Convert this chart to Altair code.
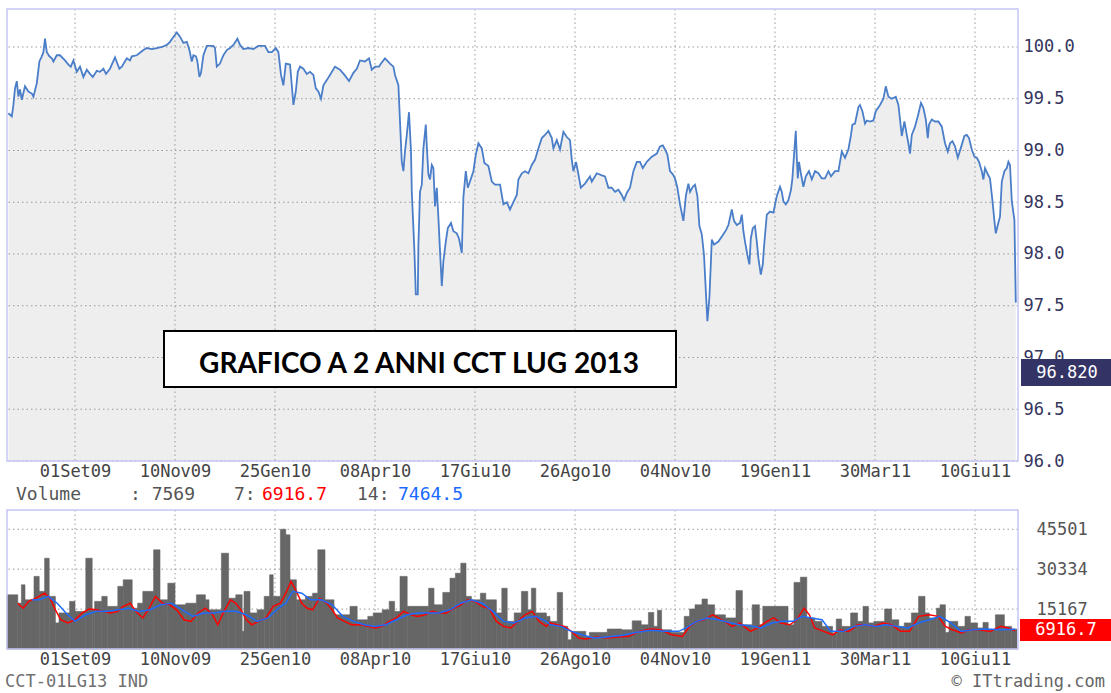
import altair as alt
import pandas as pd

MONO = "DejaVu Sans Mono"

# ---------------- data ----------------
tick_days = [34, 84, 134, 184, 234, 284, 334, 384, 434, 484]
tick_labels = ["01Set09", "10Nov09", "25Gen10", "08Apr10", "17Giu10",
               "26Ago10", "04Nov10", "19Gen11", "30Mar11", "10Giu11"]
price_ticks = [96.0, 96.5, 97.0, 97.5, 98.0, 98.5, 99.0, 99.5, 100.0]
volume_ticks = [15167, 30334, 45501]
last_price = "96.820"
last_volume = 7569
ma7_last = "6916.7"
ma14_last = "7464.5"
title_text = "GRAFICO A 2 ANNI CCT LUG 2013"
instrument = "CCT-01LG13 IND"
credit = "\u00a9 ITtrading.com"

# (trading-day index, price)
price_points = [
    (0.7, 99.36), (2.4, 99.33), (3.2, 99.44), (4.0, 99.60), (4.9, 99.67), (5.7, 99.52), (6.5, 99.59),
    (7.4, 99.49), (9.0, 99.62), (10.7, 99.57), (12.4, 99.55), (13.2, 99.52), (14.9, 99.65), (16.2, 99.86),
    (17.4, 99.91), (18.2, 99.95), (19.0, 100.08), (19.9, 99.95), (21.2, 99.91), (22.4, 99.89), (23.2, 99.86),
    (24.9, 99.92), (26.5, 99.92), (29.0, 99.87), (30.7, 99.83), (31.9, 99.81), (33.2, 99.87), (34.9, 99.76),
    (36.5, 99.81), (38.2, 99.71), (39.9, 99.78), (41.5, 99.74), (42.9, 99.71), (44.9, 99.77), (46.5, 99.76),
    (48.2, 99.79), (49.5, 99.74), (51.5, 99.79), (54.0, 99.90), (56.2, 99.79), (57.4, 99.81), (59.9, 99.89),
    (61.5, 99.87), (62.4, 99.91), (64.9, 99.92), (68.2, 99.97), (69.9, 99.99), (72.4, 99.98), (74.9, 99.99),
    (77.4, 100.00), (79.9, 100.02), (81.5, 100.05), (82.9, 100.09), (84.9, 100.14), (86.5, 100.10),
    (88.2, 100.04), (89.9, 100.05), (91.2, 99.97), (92.4, 99.86), (93.2, 99.92), (94.5, 99.91), (95.2, 99.86),
    (96.2, 99.71), (97.0, 99.75), (98.2, 99.92), (99.9, 100.01), (103.2, 100.01), (104.0, 99.99),
    (104.9, 99.81), (106.5, 99.84), (108.2, 99.92), (109.9, 99.97), (111.5, 99.99), (113.2, 100.02),
    (115.2, 100.08), (116.5, 100.02), (118.2, 99.98), (120.7, 99.99), (123.2, 99.98), (125.7, 100.01),
    (129.0, 100.01), (130.7, 99.95), (132.4, 99.95), (134.4, 99.99), (135.7, 99.95), (137.0, 99.73),
    (138.2, 99.63), (139.4, 99.84), (141.5, 99.83), (142.4, 99.63), (143.2, 99.44), (144.4, 99.57),
    (145.4, 99.76), (146.5, 99.81), (148.2, 99.79), (149.9, 99.74), (151.5, 99.76), (153.2, 99.73),
    (154.4, 99.60), (155.7, 99.57), (157.0, 99.50), (158.2, 99.63), (159.9, 99.68), (161.5, 99.73),
    (164.0, 99.81), (166.5, 99.78), (168.7, 99.73), (169.9, 99.70), (171.0, 99.67), (173.2, 99.75),
    (174.9, 99.79), (176.5, 99.87), (179.0, 99.86), (181.0, 99.89), (182.4, 99.78), (184.0, 99.81),
    (186.0, 99.81), (187.0, 99.84), (189.0, 99.89), (191.5, 99.84), (193.2, 99.81), (194.0, 99.73),
    (195.7, 99.63), (196.5, 99.28), (197.4, 98.89), (198.2, 98.80), (199.0, 98.99), (199.9, 99.15),
    (201.0, 99.37), (202.0, 98.99), (202.4, 98.60), (203.7, 98.03), (204.4, 97.61), (205.4, 97.61),
    (205.7, 98.08), (206.5, 98.60), (207.4, 98.67), (208.2, 99.02), (209.4, 99.25), (209.9, 99.04),
    (210.7, 98.77), (211.5, 98.72), (212.4, 98.86), (213.2, 98.83), (214.0, 98.46), (214.9, 98.64),
    (215.7, 98.35), (216.5, 98.03), (217.4, 97.69), (218.2, 97.93), (219.4, 98.12), (220.4, 98.25),
    (222.0, 98.30), (223.2, 98.22), (224.9, 98.20), (226.0, 98.15), (227.4, 98.01), (228.2, 98.55),
    (229.4, 98.80), (230.4, 98.64), (231.5, 98.70), (233.2, 98.80), (234.4, 98.96), (235.7, 99.07),
    (237.4, 99.02), (238.7, 98.88), (240.7, 98.85), (242.4, 98.70), (244.0, 98.67), (246.5, 98.67),
    (248.2, 98.48), (249.9, 98.50), (251.5, 98.43), (253.2, 98.50), (254.9, 98.57), (255.7, 98.72),
    (257.4, 98.78), (259.0, 98.80), (260.7, 98.78), (262.4, 98.86), (264.0, 98.91), (265.7, 99.02),
    (267.4, 99.12), (269.0, 99.15), (270.7, 99.19), (272.4, 99.12), (273.2, 99.02), (274.9, 99.10),
    (276.5, 99.01), (278.2, 99.18), (279.9, 99.13), (281.5, 99.10), (282.4, 98.91), (283.2, 98.80),
    (284.5, 98.89), (285.7, 98.77), (286.9, 98.64), (289.0, 98.68), (291.5, 98.75), (292.4, 98.70),
    (294.9, 98.78), (297.4, 98.76), (299.0, 98.75), (300.7, 98.64), (302.4, 98.64), (304.0, 98.60),
    (305.7, 98.62), (307.4, 98.57), (308.5, 98.52), (309.9, 98.59), (311.5, 98.64), (313.2, 98.80),
    (314.9, 98.89), (316.5, 98.89), (317.9, 98.83), (319.9, 98.89), (322.4, 98.94), (324.9, 98.97),
    (326.5, 99.04), (327.9, 99.05), (329.0, 99.01), (330.2, 98.96), (331.5, 98.80), (332.9, 98.77),
    (334.0, 98.73), (335.2, 98.64), (336.5, 98.48), (338.2, 98.32), (339.5, 98.57), (340.7, 98.68),
    (341.5, 98.60), (342.9, 98.65), (344.0, 98.67), (345.2, 98.56), (346.2, 98.27), (347.4, 98.19),
    (348.5, 97.99), (349.5, 97.61), (350.2, 97.35), (351.2, 97.58), (351.9, 97.90), (352.4, 98.14),
    (353.5, 98.09), (355.7, 98.12), (358.2, 98.19), (359.5, 98.23), (360.7, 98.28), (362.4, 98.43),
    (363.5, 98.32), (364.9, 98.28), (366.5, 98.30), (367.4, 98.38), (368.2, 98.22), (369.0, 98.12),
    (370.2, 97.99), (371.2, 97.90), (371.9, 98.15), (372.9, 98.25), (374.0, 98.27), (374.9, 98.12),
    (375.7, 97.96), (376.9, 97.80), (377.9, 97.90), (378.5, 98.07), (379.9, 98.38), (381.5, 98.41),
    (383.2, 98.40), (384.9, 98.56), (386.5, 98.65), (387.4, 98.60), (388.2, 98.51), (389.4, 98.48),
    (390.7, 98.52), (392.0, 98.62), (392.7, 98.73), (393.7, 99.01), (394.4, 99.19), (394.9, 98.93),
    (395.4, 98.73), (396.0, 98.89), (397.0, 98.77), (398.2, 98.65), (399.4, 98.75), (401.0, 98.80),
    (402.4, 98.72), (404.0, 98.80), (405.7, 98.78), (407.4, 98.73), (409.0, 98.73), (410.7, 98.80),
    (412.0, 98.75), (414.0, 98.80), (415.7, 98.80), (417.4, 98.99), (419.0, 98.93), (420.7, 99.01),
    (422.0, 99.15), (422.7, 99.25), (424.0, 99.26), (425.7, 99.42), (426.5, 99.44), (427.7, 99.38),
    (429.0, 99.26), (429.9, 99.29), (431.5, 99.28), (433.2, 99.29), (434.4, 99.38), (436.5, 99.44),
    (438.2, 99.50), (439.4, 99.62), (440.7, 99.52), (442.4, 99.50), (444.4, 99.52), (445.7, 99.44),
    (446.5, 99.30), (447.4, 99.14), (448.7, 99.28), (449.9, 99.15), (450.7, 99.07), (451.5, 98.97),
    (452.4, 99.15), (454.0, 99.23), (455.4, 99.33), (457.0, 99.46), (458.2, 99.41), (459.4, 99.30),
    (460.4, 99.12), (461.0, 99.25), (462.4, 99.30), (464.0, 99.28), (465.7, 99.28), (467.4, 99.23),
    (469.0, 99.07), (470.4, 98.99), (471.5, 99.07), (472.7, 99.09), (474.0, 99.04), (475.4, 98.93),
    (477.0, 99.03), (478.7, 99.14), (479.9, 99.15), (481.0, 99.12), (482.4, 99.01), (483.7, 98.94),
    (484.9, 98.93), (486.0, 98.89), (487.4, 98.80), (488.2, 98.72), (489.0, 98.83), (490.4, 98.77),
    (491.5, 98.73), (492.7, 98.52), (493.7, 98.32), (494.4, 98.20), (495.4, 98.28), (496.5, 98.36),
    (497.4, 98.70), (498.7, 98.80), (499.9, 98.83), (500.7, 98.89), (501.5, 98.86), (502.4, 98.51),
    (503.7, 98.33), (504.4, 97.53),
]

# (first day, last day, volume) of each run of bars
volume_bars = [
    (0, 5.4, 20600), (5.4, 7.2, 17400), (7.2, 9.0, 24400), (9.0, 13.5, 18700), (13.5, 16.1, 27600),
    (16.1, 18.8, 21900), (18.8, 21.1, 34500), (21.1, 24.2, 20000), (24.2, 26.0, 9900), (26.0, 31.3, 13700),
    (31.3, 34.0, 18100), (34.0, 39.4, 14300), (39.4, 42.6, 34500), (42.6, 43.8, 14900), (43.8, 47.4, 18100),
    (47.4, 50.1, 20000), (50.1, 55.4, 16200), (55.4, 58.1, 23800), (58.1, 62.6, 26300), (62.6, 65.3, 15500),
    (65.3, 67.9, 17400), (67.9, 73.3, 21900), (73.3, 76.5, 37700), (76.5, 80.4, 18700), (80.4, 84.0, 25000),
    (84.0, 89.4, 16800), (89.4, 94.7, 17400), (94.7, 99.2, 20600), (99.2, 101.0, 18700), (101.0, 107.2, 14900),
    (107.2, 110.8, 36400), (110.8, 114.4, 19300), (114.4, 117.6, 20600), (117.6, 118.5, 6700),
    (118.5, 121.5, 21900), (121.5, 125.1, 13700), (125.1, 128.6, 14900), (128.6, 131.3, 20000),
    (131.3, 133.1, 28200), (133.1, 136.7, 20000), (136.7, 139.4, 45500), (139.4, 141.5, 43400),
    (141.5, 144.7, 26300), (144.7, 149.2, 18700), (149.2, 152.8, 20000), (152.8, 155.4, 21200),
    (155.4, 159.0, 37700), (159.0, 163.5, 18700), (163.5, 171.5, 13000), (171.5, 175.1, 16200),
    (175.1, 180.4, 11100), (180.4, 183.1, 12400), (183.1, 187.6, 13700), (187.6, 191.1, 14900),
    (191.1, 193.8, 18100), (193.8, 196.5, 14300), (196.5, 200.1, 27600), (200.1, 210.8, 16200),
    (210.8, 213.5, 23100), (213.5, 217.9, 16800), (217.9, 221.5, 21500), (221.5, 224.2, 26900),
    (224.2, 226.9, 28800), (226.9, 229.5, 32600), (229.5, 232.2, 20000), (232.2, 236.7, 18700),
    (236.7, 239.4, 21200), (239.4, 244.7, 18700), (244.7, 247.4, 13700), (247.4, 250.1, 23100),
    (250.1, 253.6, 10500), (253.6, 257.2, 13700), (257.2, 260.4, 21900), (260.4, 262.2, 14900),
    (262.2, 264.4, 23100), (264.4, 269.7, 13700), (269.7, 271.5, 12400), (271.5, 275.1, 10500),
    (275.1, 277.8, 21500), (277.8, 280.4, 8600), (280.4, 282.2, 3500), (282.2, 289.4, 6700),
    (289.4, 291.2, 4800), (291.2, 300.1, 6300), (300.1, 307.3, 7600), (307.3, 312.6, 7300),
    (312.6, 317.1, 10700), (317.1, 320.7, 9200), (320.7, 323.4, 13900), (323.4, 325.2, 8600),
    (325.2, 327.3, 14700), (327.3, 332.3, 7300), (332.3, 338.6, 6300), (338.6, 341.3, 12400),
    (341.3, 344.0, 15200), (344.0, 347.5, 16800), (347.5, 350.2, 19000), (350.2, 353.8, 16800),
    (353.8, 359.2, 13000), (359.2, 364.5, 11800), (364.5, 367.7, 22200), (367.7, 372.6, 9200),
    (372.6, 376.2, 16800), (376.2, 377.9, 9200), (377.9, 390.5, 16200), (390.5, 393.5, 9200),
    (393.5, 396.7, 25300), (396.7, 399.9, 27300), (399.9, 403.9, 11800), (403.9, 407.5, 10500),
    (407.5, 412.8, 8600), (412.8, 414.6, 6100), (414.6, 417.3, 11400), (417.3, 421.8, 8600),
    (421.8, 425.3, 13700), (425.3, 428.0, 10500), (428.0, 430.7, 16200), (430.7, 433.4, 9900),
    (433.4, 438.8, 10500), (438.8, 442.3, 15200), (442.3, 445.9, 11100), (445.9, 448.6, 8600),
    (448.6, 452.2, 9900), (452.2, 455.8, 13700), (455.8, 459.0, 20000), (459.0, 461.1, 13700),
    (461.1, 464.7, 11800), (464.7, 466.5, 15500), (466.5, 469.2, 16800), (469.2, 471.0, 6300),
    (471.0, 475.4, 10500), (475.4, 479.0, 8600), (479.0, 481.7, 12400), (481.7, 485.3, 9900),
    (485.3, 488.0, 8000), (488.0, 490.6, 10100), (490.6, 494.2, 7300), (494.2, 498.7, 13000),
    (498.7, 502.3, 8600), (502.3, 505.0, 7569),
]

# 7-session moving average of volume (red)
ma7_points = [
    (5.4, 17400), (8.1, 15500), (10.8, 18100), (14.4, 19300), (18.8, 21200), (21.5, 19300), (24.2, 14900),
    (26.9, 11100), (30.4, 9900), (34.0, 11100), (37.6, 13700), (41.1, 15200), (44.7, 14900), (48.3, 14300),
    (51.9, 13700), (55.4, 14300), (58.1, 16200), (61.7, 17400), (64.4, 14300), (67.9, 11800), (70.6, 14900),
    (74.2, 20000), (77.8, 17400), (81.3, 16800), (84.9, 14900), (88.5, 11100), (92.0, 10500), (95.6, 13700),
    (99.2, 15500), (102.8, 13000), (105.4, 9200), (108.1, 13700), (111.7, 18700), (114.4, 17400),
    (117.0, 14900), (119.7, 11100), (122.4, 9200), (125.9, 10500), (129.5, 11800), (133.1, 16200),
    (136.7, 17400), (139.4, 21200), (142.0, 25700), (144.7, 21900), (147.4, 17400), (150.1, 15500),
    (152.8, 14900), (156.3, 19300), (159.9, 17400), (162.6, 14900), (165.3, 11800), (168.8, 10500),
    (172.4, 9200), (176.9, 9200), (180.4, 8600), (184.0, 8000), (187.6, 8600), (191.1, 10500),
    (194.7, 11800), (198.3, 14300), (201.9, 13000), (205.4, 12400), (209.0, 13000), (212.6, 14300),
    (216.1, 13700), (219.7, 13700), (223.3, 15500), (226.9, 16800), (230.4, 18700), (234.0, 18100),
    (237.6, 16200), (241.1, 15500), (244.7, 10500), (248.3, 8600), (251.9, 8000), (255.4, 10500),
    (259.0, 13000), (262.6, 14300), (266.1, 10500), (269.7, 8600), (271.5, 9900), (275.1, 9200),
    (278.7, 8600), (282.2, 6700), (285.8, 4200), (289.4, 3800), (294.8, 4600), (300.1, 4200),
    (305.5, 4600), (310.9, 4800), (316.2, 6700), (321.6, 7600), (327.0, 7300), (332.3, 5400),
    (337.7, 4800), (341.3, 8600), (344.8, 10500), (348.4, 11100), (352.9, 13000), (357.4, 11100),
    (362.7, 8600), (366.3, 9900), (371.7, 6700), (375.3, 8000), (378.8, 9900), (383.3, 11800),
    (386.9, 9900), (391.4, 9200), (394.9, 11100), (398.5, 15500), (401.2, 13000), (403.9, 8000),
    (408.4, 6700), (412.8, 5400), (416.4, 7300), (420.9, 6700), (425.3, 9200), (428.9, 9200),
    (433.4, 8600), (437.9, 9900), (442.3, 9200), (446.8, 6700), (451.3, 6700), (455.8, 12400),
    (461.1, 13000), (465.6, 12400), (469.2, 8600), (472.7, 7300), (477.2, 6100), (480.8, 7300),
    (486.2, 7300), (491.5, 6700), (496.9, 8600), (500.5, 8000), (504.1, 6916.7),
]

# 14-session moving average of volume (blue)
ma14_points = [
    (12.6, 18700), (16.1, 18700), (20.6, 20000), (25.1, 17400), (29.5, 13700), (34.0, 10500), (39.4, 13000),
    (44.7, 14300), (50.1, 14300), (55.4, 14900), (60.8, 15500), (66.1, 14300), (71.5, 14900), (76.9, 16800),
    (82.2, 17400), (87.6, 14900), (92.9, 12400), (98.3, 13700), (103.6, 13700), (109.0, 14300),
    (114.4, 14300), (119.7, 13000), (125.1, 10500), (130.4, 11800), (135.8, 15500), (139.4, 17400),
    (142.9, 21900), (147.4, 21200), (151.9, 18700), (157.2, 18700), (162.6, 16800), (167.9, 12400),
    (173.3, 10500), (178.6, 9200), (184.0, 8600), (189.4, 9200), (194.7, 11100), (200.1, 13000),
    (205.4, 13700), (210.8, 13700), (216.1, 13700), (221.5, 14900), (226.9, 17400), (232.2, 18700),
    (237.6, 17400), (242.9, 14300), (248.3, 10500), (253.6, 9900), (259.0, 11800), (264.4, 12400),
    (269.7, 10500), (271.5, 9200), (276.9, 8600), (282.2, 6700), (287.6, 5400), (293.0, 4200),
    (300.1, 4600), (307.3, 5100), (314.4, 6300), (321.6, 7100), (328.7, 6700), (335.9, 6700),
    (339.5, 8000), (344.8, 10500), (350.2, 11800), (355.6, 11100), (360.9, 10100), (366.3, 9200),
    (371.7, 8800), (377.0, 8000), (382.4, 9900), (387.8, 10500), (393.1, 10500), (397.6, 12400),
    (402.1, 11800), (407.5, 11100), (411.9, 6700), (418.2, 6700), (423.6, 8600), (428.9, 9200),
    (434.3, 8600), (439.7, 9200), (445.0, 8600), (450.4, 8000), (455.8, 9900), (461.1, 11100),
    (466.5, 12400), (471.9, 9900), (477.2, 6700), (482.6, 7300), (489.7, 7600), (496.9, 7300),
    (504.1, 7464.5),
]

# ---------------- frames ----------------
price_df = pd.DataFrame(price_points, columns=["day", "price"])
vol_df = pd.DataFrame(volume_bars, columns=["start", "end", "volume"])
ma7_df = pd.DataFrame(ma7_points, columns=["day", "ma"])
ma14_df = pd.DataFrame(ma14_points, columns=["day", "ma"])
one = pd.DataFrame({"k": [0]})

# ---------------- layout constants ----------------
W = 1011
H_TOP = 452
H_VOL = 139
GRID = dict(color="#9a9a9a", strokeDash=[1.5, 3], strokeWidth=1)
FRAME = "#c6c6f4"

x_scale = alt.Scale(domain=[0, 505.5], nice=False, zero=False)
p_scale = alt.Scale(domain=[96.0, 100.367], nice=False, zero=False)
v_scale = alt.Scale(domain=[0, 52820], nice=False, zero=False)

label_expr = ("[" + ",".join(f"'{s}'" for s in tick_labels) + "][indexof(["
              + ",".join(str(d) for d in tick_days) + "], datum.value)]")

x_axis = alt.Axis(values=tick_days, labelExpr=label_expr, title=None, grid=False, domain=False,
                  ticks=False, labelPadding=2, labelFont=MONO, labelFontSize=17,
                  labelColor="#444444", labelFlush=False, labelOverlap=False, labelBaseline="top")
p_axis = alt.Axis(orient="right", values=price_ticks, format=".1f", title=None, grid=False,
                  domain=False, ticks=False, labelPadding=5, labelFont=MONO, labelFontSize=17,
                  labelColor="#34345c", labelAlign="left", labelFlush=False, labelOverlap=False)
v_axis = alt.Axis(orient="right", values=volume_ticks, format="d", title=None, grid=False,
                  domain=False, ticks=False, labelPadding=18, labelFont=MONO, labelFontSize=17,
                  labelColor="#555555", labelAlign="left", labelFlush=False, labelOverlap=False)


def X(field):
    return alt.X(f"{field}:Q", scale=x_scale, axis=x_axis)


def PY(field):
    return alt.Y(f"{field}:Q", scale=p_scale, axis=p_axis)


def VY(field):
    return alt.Y(f"{field}:Q", scale=v_scale, axis=v_axis)


def label(text, x, y, color, size=17, align="left", font=MONO, weight="normal"):
    return alt.Chart(one).mark_text(text=text, font=font, fontSize=size, color=color,
                                    align=align, baseline="middle", fontWeight=weight).encode(
        x=alt.value(x), y=alt.value(y))


# ---------------- price panel ----------------
canvas = alt.Chart(one).mark_rect(opacity=0).encode(
    x=alt.value(-7), x2=alt.value(1104), y=alt.value(-9), y2=alt.value(684))
area = alt.Chart(price_df).mark_area(color="#eeeeee").encode(
    x=X("day"), y=PY("price"), y2=alt.datum(96.0))
p_hgrid = alt.Chart(pd.DataFrame({"p": price_ticks})).mark_rule(**GRID).encode(y=PY("p"))
p_vgrid = alt.Chart(pd.DataFrame({"d": tick_days})).mark_rule(**GRID).encode(x=X("d"))
p_line = alt.Chart(price_df).mark_line(color="#4a7ec9", strokeWidth=1.8).encode(
    x=X("day"), y=PY("price"))
p_frame = alt.Chart(one).mark_rect(fillOpacity=0, stroke=FRAME, strokeWidth=1.5).encode(
    x=alt.value(0), x2=alt.value(W), y=alt.value(0), y2=alt.value(H_TOP))
t_box = alt.Chart(one).mark_rect(fill="white", stroke="black", strokeWidth=2).encode(
    x=alt.value(157), x2=alt.value(669), y=alt.value(322), y2=alt.value(378))
t_text = alt.Chart(one).mark_text(text=title_text, font="Lato", fontWeight="bold", fontSize=28,
                                  color="black", align="center", baseline="alphabetic").encode(
    x=alt.value(412), y=alt.value(364))
last_box = alt.Chart(one).mark_rect(color="#333366").encode(
    x=alt.value(1014), x2=alt.value(1104), y=alt.value(350), y2=alt.value(377))
last_txt = label(last_price, 1060, 364, "white", align="center")

top = alt.layer(canvas, area, p_hgrid, p_vgrid, p_line, p_frame, t_box, t_text,
                last_box, last_txt).properties(width=W, height=H_TOP)

# ---------------- volume panel ----------------
v_hgrid = alt.Chart(pd.DataFrame({"v": volume_ticks})).mark_rule(**GRID).encode(y=VY("v"))
v_vgrid = alt.Chart(pd.DataFrame({"d": tick_days})).mark_rule(**GRID).encode(x=X("d"))
bars = alt.Chart(vol_df).mark_rect(color="#666666", stroke="#666666", strokeWidth=0.6).encode(
    x=X("start"), x2="end:Q", y=VY("volume"), y2=alt.datum(0))
ma7_line = alt.Chart(ma7_df).mark_line(color="#ff0000", strokeWidth=1.5).encode(
    x=X("day"), y=VY("ma"))
ma14_line = alt.Chart(ma14_df).mark_line(color="#1e6bff", strokeWidth=1.5).encode(
    x=X("day"), y=VY("ma"))
v_base = alt.Chart(pd.DataFrame({"v": [0]})).mark_rule(**GRID).encode(y=VY("v"))
v_frame = alt.Chart(one).mark_rect(fillOpacity=0, stroke=FRAME, strokeWidth=1.5).encode(
    x=alt.value(0), x2=alt.value(W), y=alt.value(0), y2=alt.value(H_VOL))
ma_box = alt.Chart(one).mark_rect(color="#ff0000").encode(
    x=alt.value(1013), x2=alt.value(1104), y=alt.value(109), y2=alt.value(131))

vol = alt.layer(
    v_hgrid, v_vgrid, bars, ma7_line, ma14_line, v_base, v_frame, ma_box,
    label(ma7_last, 1059, 120, "white", align="center"),
    label("Volume", 9, -15, "#555555", size=18),
    label(f": {last_volume}", 123, -15, "#555555", size=18),
    label("7:", 227, -15, "#555555", size=18),
    label(ma7_last, 255, -15, "#ff0000", size=18),
    label("14:", 350, -15, "#555555", size=18),
    label(ma14_last, 391, -15, "#1a6aff", size=18),
    label(instrument, -2, 172, "#707070", size=17),
    label(credit, 1098, 172, "#666666", size=17, align="right"),
).properties(width=W, height=H_VOL)

chart = alt.vconcat(top, vol, spacing=49, bounds="flush").properties(
    padding=0, autosize=alt.AutoSizeParams(type="pad"), background="white"
).configure_view(stroke=None, fill="white")

chart.save("out.html", embed_options={"renderer": "svg", "actions": False})
